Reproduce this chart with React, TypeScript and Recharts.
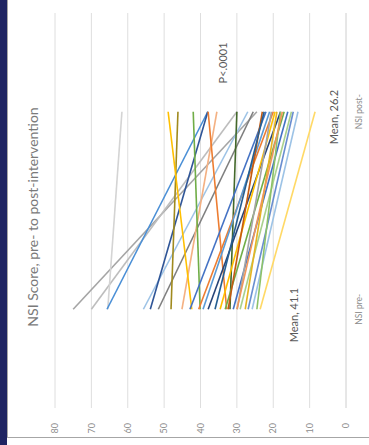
import React from "react";
import { LineChart, Line, XAxis, YAxis, CartesianGrid } from "recharts";

// NSI score per patient (pre and post intervention)
const categories = ["NSI pre-", "NSI post-"];

const preScores = [
  75, 70, 65.5, 65.7, 55.7, 53.8, 51.6, 48.1, 45.1, 32.8, 42.4, 40.1, 31.9,
  42.9, 40.5, 39.3, 37.9, 34.6, 33.2, 32.4, 31.0, 29.9, 29.1, 27.7, 26.9, 25.8,
  24.5, 23.6, 36, 30,
];

const postScores = [
  24.5, 30, 61.6, 38, 27, 38, 25.5, 46.2, 35.5, 37.9, 48.9, 42, 30, 22, 20, 21,
  18, 19.5, 17, 23, 16, 20.5, 15, 19, 14.5, 13.2, 18, 8.5, 22.5, 17.5,
];

const lineColors = [
  "#a5a5a5", "#bdbdbd", "#d4d4d4", "#4a8fd6", "#9dc3e6", "#2f5597",
  "#7f7f7f", "#a08a1e", "#f4b183", "#ed7d31", "#ffc000", "#70ad47",
  "#43682b", "#4472c4", "#ed7d31", "#5b9bd5", "#264478", "#ffc000",
  "#70ad47", "#c55a11", "#4472c4", "#a5a5a5", "#a9d18e", "#e6b422",
  "#698ed0", "#9dc3e6", "#8cc168", "#ffd966", "#255e91", "#f1975a",
];

const valueTicks = [0, 10, 20, 30, 40, 50, 60, 70, 80];

const chartData = categories.map((cat, i) => {
  const row: Record<string, string | number> = { cat };
  preScores.forEach((pre, k) => {
    row["p" + k] = i === 0 ? pre : postScores[k];
  });
  return row;
});

const font = "Lato, 'Open Sans', sans-serif";

const note: React.CSSProperties = {
  position: "absolute",
  transform: "translate(-50%, -50%)",
  whiteSpace: "nowrap",
  fontFamily: font,
  fontSize: 11,
  color: "#595959",
};

export default function App() {
  return (
    <div
      style={{
        position: "absolute",
        left: 0,
        top: 0,
        width: 369,
        height: 445,
        overflow: "hidden",
        background: "#fff",
      }}
    >
      {/* slide edge + chart frame */}
      <div style={{ position: "absolute", left: 0, top: 0, width: 7, height: 445, background: "#1f2462" }} />
      <div style={{ position: "absolute", left: 7, top: 0, width: 1, height: 438, background: "#a6a6a6" }} />
      <div style={{ position: "absolute", left: 7, top: 437, width: 362, height: 1, background: "#a6a6a6" }} />

      {/* the chart itself is drawn upright and turned a quarter turn, as on the slide */}
      <div
        style={{
          position: "absolute",
          left: -38,
          top: 38,
          width: 445,
          height: 369,
          transform: "rotate(-90deg)",
        }}
      >
        <div
          style={{
            position: "absolute",
            left: 228,
            top: 32,
            transform: "translate(-50%, -50%)",
            whiteSpace: "nowrap",
            fontFamily: font,
            fontSize: 14,
            color: "#7a7a7a",
          }}
        >
          NSI Score, pre- to post-intervention
        </div>

        <LineChart
          width={445}
          height={369}
          data={chartData}
          margin={{ top: 55, right: 13, left: 0, bottom: 0 }}
        >
          <CartesianGrid vertical={false} stroke="#dedede" />
          <XAxis
            dataKey="cat"
            height={23}
            padding={{ left: 98.75, right: 98.75 }}
            axisLine={{ stroke: "#dedede" }}
            tickLine={false}
            tickSize={0}
            tickMargin={9.5}
            tick={{ fill: "#8c8c8c", fontSize: 8.5, fontFamily: font }}
          />
          <YAxis
            width={37}
            domain={[0, 80]}
            ticks={valueTicks}
            axisLine={false}
            tickLine={false}
            tickSize={0}
            tickMargin={15}
            tick={{ fill: "#8c8c8c", fontSize: 9, fontFamily: font }}
          />
          {preScores.map((_, k) => (
            <Line
              key={k}
              type="linear"
              dataKey={"p" + k}
              stroke={lineColors[k]}
              strokeWidth={1.6}
              dot={false}
              isAnimationActive={false}
            />
          ))}
        </LineChart>

        <div style={{ ...note, left: 382, top: 222 }}>P&lt;.0001</div>
        <div style={{ ...note, left: 328, top: 333 }}>Mean, 26.2</div>
        <div style={{ ...note, left: 130, top: 293 }}>Mean, 41.1</div>
      </div>
    </div>
  );
}
